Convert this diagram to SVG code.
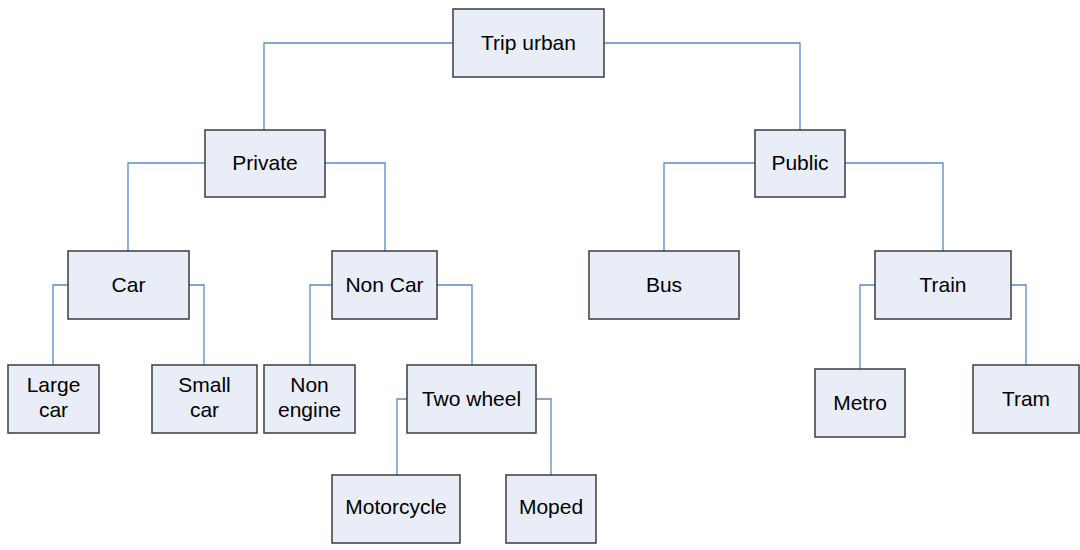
<svg xmlns="http://www.w3.org/2000/svg" width="1080" height="550" viewBox="0 0 1080 550">
<style>
.n rect{fill:#E8EDF7;stroke:#3C3C3C;stroke-width:1.5}
.n text{font-family:"Liberation Sans",Arial,sans-serif;font-size:21px;fill:#000;text-anchor:middle}
.c path{fill:none;stroke:#5B87C5;stroke-width:1.3}
</style>
<rect width="1080" height="550" fill="#fff"/>
<g class="c" id="connectors">
<path d="M453 43H264V130"/>
<path d="M604 43H800V130"/>
<path d="M205 163H128V251"/>
<path d="M325 163H385V251"/>
<path d="M755 163H664V251"/>
<path d="M845 163H943V251"/>
<path d="M68 285H53V365"/>
<path d="M189 285H204V365"/>
<path d="M332 285H310V365"/>
<path d="M437 285H472V365"/>
<path d="M407 399H397V475"/>
<path d="M536 399H551V475"/>
<path d="M875 285H860V369"/>
<path d="M1011 285H1026V365"/>
</g>
<g class="n" id="trip-urban"><rect x="453" y="9" width="151" height="68"/><text x="528.5" y="50">Trip urban</text></g>
<g class="n" id="private"><rect x="205" y="130" width="120" height="67"/><text x="265" y="170">Private</text></g>
<g class="n" id="public"><rect x="755" y="130" width="90" height="67"/><text x="800" y="170">Public</text></g>
<g class="n" id="car"><rect x="68" y="251" width="121" height="68"/><text x="128.5" y="292">Car</text></g>
<g class="n" id="non-car"><rect x="332" y="251" width="105" height="68"/><text x="384.5" y="292">Non Car</text></g>
<g class="n" id="bus"><rect x="589" y="251" width="150" height="68"/><text x="664" y="292">Bus</text></g>
<g class="n" id="train"><rect x="875" y="251" width="136" height="68"/><text x="943" y="292">Train</text></g>
<g class="n" id="large-car"><rect x="8" y="365" width="91" height="68"/><text x="53.5" y="392">Large</text><text x="53.5" y="417">car</text></g>
<g class="n" id="small-car"><rect x="152" y="365" width="105" height="68"/><text x="204.5" y="392">Small</text><text x="204.5" y="417">car</text></g>
<g class="n" id="non-engine"><rect x="264" y="365" width="91" height="68"/><text x="309.5" y="392">Non</text><text x="309.5" y="417">engine</text></g>
<g class="n" id="two-wheel"><rect x="407" y="365" width="129" height="68"/><text x="471.5" y="406">Two wheel</text></g>
<g class="n" id="motorcycle"><rect x="332" y="475" width="128" height="68"/><text x="396" y="514">Motorcycle</text></g>
<g class="n" id="moped"><rect x="506" y="475" width="90" height="68"/><text x="551" y="514">Moped</text></g>
<g class="n" id="metro"><rect x="815" y="369" width="90" height="68"/><text x="860" y="410">Metro</text></g>
<g class="n" id="tram"><rect x="973" y="365" width="106" height="68"/><text x="1026" y="406">Tram</text></g>
</svg>
